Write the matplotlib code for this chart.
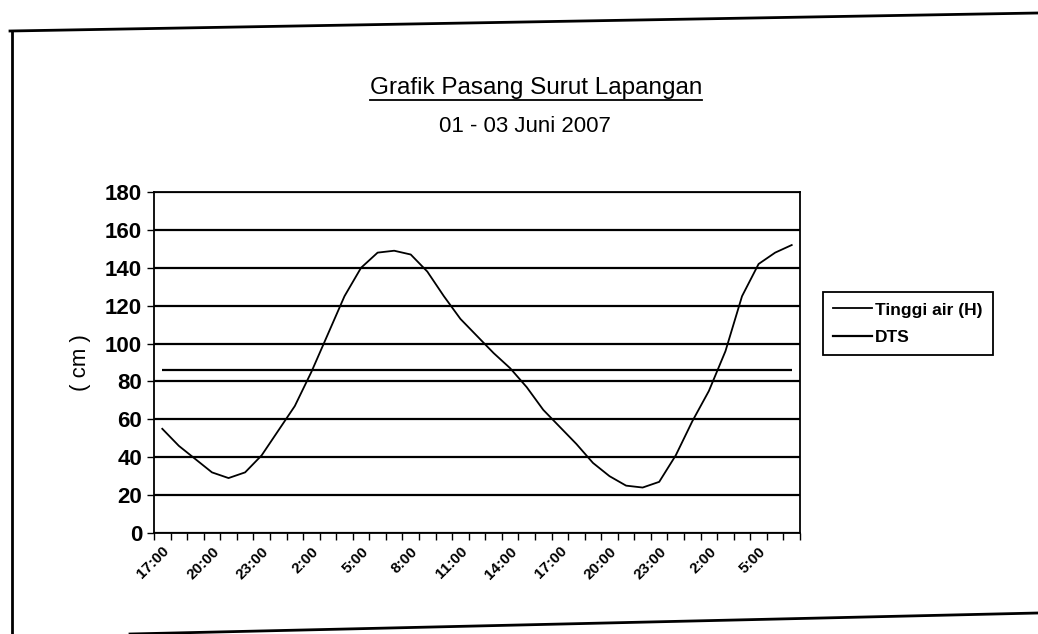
import numpy as np
import matplotlib.pyplot as plt
from matplotlib.lines import Line2D

plt.rcParams['font.family'] = ['Liberation Sans', 'DejaVu Sans']

# jam pengamatan, 01 Juni 17:00 s/d 03 Juni 07:00
jam = ['17:00', '18:00', '19:00', '20:00', '21:00', '22:00', '23:00',
       '0:00', '1:00', '2:00', '3:00', '4:00', '5:00', '6:00', '7:00',
       '8:00', '9:00', '10:00', '11:00', '12:00', '13:00', '14:00',
       '15:00', '16:00', '17:00', '18:00', '19:00', '20:00', '21:00',
       '22:00', '23:00', '0:00', '1:00', '2:00', '3:00', '4:00', '5:00',
       '6:00', '7:00']
tinggi_air = [55, 46, 39, 32, 29, 32, 41, 54, 67, 85, 105, 125, 140, 148,
              149, 147, 138, 125, 113, 104, 95, 87, 77, 65, 56, 47, 37, 30,
              25, 24, 27, 41, 59, 75, 96, 125, 142, 148, 152]
dts = 86

W, H = 1038, 634
fig = plt.figure(figsize=(W / 100, H / 100), dpi=100)
ax = fig.add_axes([154 / W, 1 - 533 / H, 646 / W, 341 / H])

x = np.arange(len(jam))
ax.plot(x, tinggi_air, color='black', lw=1.3)
ax.hlines(dts, x[0], x[-1], color='black', lw=1.6)

ax.set_xlim(-0.5, len(jam) - 0.5)
ax.set_ylim(0, 180)
ax.set_yticks(np.arange(0, 181, 20))
ax.yaxis.grid(True, color='black', lw=1.6)
ax.set_axisbelow(True)

ax.set_xticks(x[::3])
ax.set_xticklabels(jam[::3], rotation=45, ha='right', rotation_mode='anchor',
                   fontsize=11, fontweight='bold')
ax.set_xticks(np.arange(-0.5, len(jam), 1), minor=True)
ax.tick_params(axis='x', which='major', length=0, pad=8)
ax.tick_params(axis='x', which='minor', length=5, width=1, direction='out')
ax.tick_params(axis='y', length=5, width=1, direction='out', labelsize=16)
for t in ax.get_yticklabels():
    t.set_fontweight('bold')
for s in ax.spines.values():
    s.set_linewidth(1.3)

ax.set_ylabel('( cm )', fontsize=16, labelpad=10)

h1 = Line2D([], [], color='black', lw=1.3)
h2 = Line2D([], [], color='black', lw=1.6)
leg = ax.legend([h1, h2], ['Tinggi air (H)', 'DTS'], loc='upper left',
                bbox_to_anchor=(823 / W, 1 - 292 / H), bbox_transform=fig.transFigure,
                borderaxespad=0, fancybox=False, framealpha=1,
                edgecolor='black', prop={'size': 12.5, 'weight': 'bold'},
                handlelength=2.2, handletextpad=0.2, labelspacing=0.7,
                borderpad=0.6)
leg.get_frame().set_linewidth(1.3)

judul = fig.text(536 / W, 1 - 88 / H, 'Grafik Pasang Surut Lapangan',
                 ha='center', va='center', fontsize=17.5)
fig.text(525 / W, 1 - 126 / H, '01 - 03 Juni 2007', ha='center',
         va='center', fontsize=16)

# garis bawah judul
fig.canvas.draw()
bb = judul.get_window_extent()
fig.add_artist(Line2D([bb.x0 / W, bb.x1 / W], [(bb.y0 - 1) / H, (bb.y0 - 1) / H],
                      color='black', lw=1.3, transform=fig.transFigure))

# bingkai kertas hasil scan
fig.add_artist(Line2D([10 / W, 1], [1 - 31 / H, 1 - 13 / H], color='black',
                      lw=2, transform=fig.transFigure))
fig.add_artist(Line2D([12 / W, 12 / W], [1 - 31 / H, 0], color='black',
                      lw=2, transform=fig.transFigure))
fig.add_artist(Line2D([130 / W, 1], [0, 1 - 613 / H], color='black',
                      lw=2, transform=fig.transFigure))

fig.savefig('out.png', dpi=100)
